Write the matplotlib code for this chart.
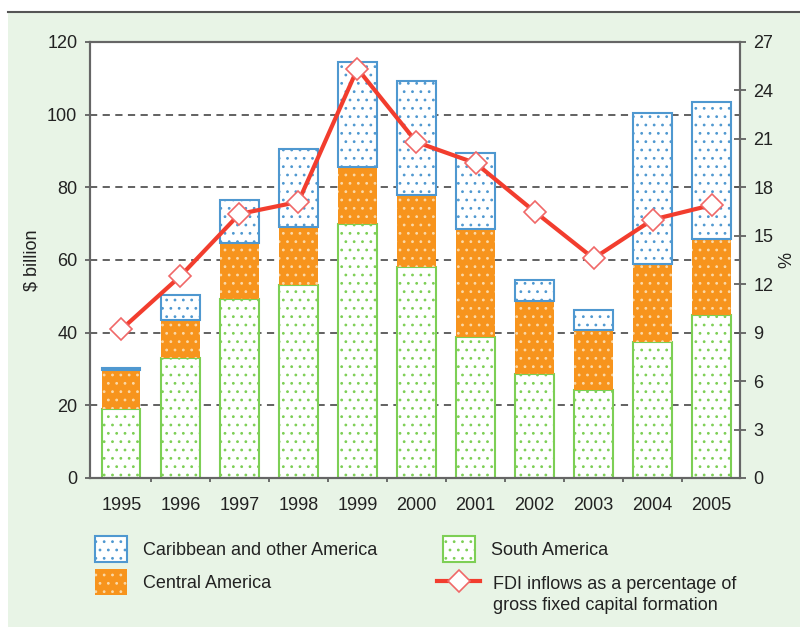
import matplotlib.pyplot as plt
from matplotlib.patches import Patch, Rectangle
from matplotlib.lines import Line2D
import numpy as np

plt.rcParams['font.family'] = ['Liberation Sans', 'DejaVu Sans']
plt.rcParams['hatch.linewidth'] = 0.8

# datos
years = ['1995', '1996', '1997', '1998', '1999', '2000', '2001', '2002', '2003', '2004', '2005']
south = [18.9, 33.0, 49.4, 53.1, 70.0, 58.2, 38.8, 28.5, 24.3, 37.5, 44.8]
central = [10.7, 10.4, 15.4, 16.1, 15.7, 19.8, 29.6, 20.1, 16.3, 21.5, 20.9]
caribbean = [0.8, 6.9, 11.6, 21.4, 28.8, 31.3, 21.1, 5.8, 5.6, 41.4, 37.9]
fdi_pct = [9.2, 12.5, 16.35, 17.1, 25.35, 20.8, 19.5, 16.5, 13.6, 16.0, 16.9]

# colores
bg_green = '#e8f4e6'
blue = '#4f98d0'
orange = '#f7941d'
green = '#7dcf55'
red = '#f23d2e'
fs = 13

fig = plt.figure(figsize=(8, 6.27), dpi=100)
fig.patch.set_facecolor('white')
fig.patches.append(Rectangle((8 / 800, 0), 1, 615 / 627, transform=fig.transFigure,
                             facecolor=bg_green, edgecolor='none', zorder=-10))
fig.lines.append(Line2D([8 / 800, 1], [615 / 627, 615 / 627], transform=fig.transFigure,
                        color='#555555', linewidth=1.5))

ax = fig.add_axes([90 / 800, (627 - 478) / 627, 650 / 800, 436 / 627])
ax.set_facecolor('white')
x = np.arange(len(years))
w = 0.65

south_arr = np.array(south)
central_arr = np.array(central)
ax.bar(x, south, w, color='white', edgecolor=green, hatch='..', linewidth=1.5, zorder=2)
ax.bar(x, central, w, bottom=south_arr, color=orange, edgecolor='#fbd9a8', hatch='..', linewidth=0, zorder=2)
ax.bar(x, caribbean, w, bottom=south_arr + central_arr, color='white', edgecolor=blue, hatch='..',
       linewidth=1.5, zorder=2)

ax.set_xlim(-0.53, 10.48)
ax.set_ylim(0, 120)
ax.set_yticks(range(0, 121, 20))
ax.set_xticks(x)
ax.set_xticklabels(years, fontsize=fs, color='#222222')
ax.set_xticks(x[:-1] + 0.5, minor=True)
ax.tick_params(axis='x', which='major', length=0, pad=14)
ax.tick_params(axis='x', which='minor', length=3, width=1.2, color='#555555', direction='out')
ax.tick_params(axis='y', length=3.6, width=1.2, color='#555555', labelsize=fs, pad=5.5,
               labelcolor='#222222')
for v in range(20, 101, 20):
    ax.axhline(v, color='#555555', linestyle=(0, (4, 3)), linewidth=1.3, zorder=1)
for s in ax.spines.values():
    s.set_color('#666666')
    s.set_linewidth(1.5)
ax.set_ylabel('$ billion', fontsize=fs, labelpad=5, color='#222222')

ax2 = ax.twinx()
ax2.plot(x, fdi_pct, color=red, linewidth=3, marker='D', markersize=11,
         markerfacecolor='white', markeredgecolor='#f06868', markeredgewidth=1.2, zorder=5)
ax2.set_ylim(0, 27)
ax2.set_yticks(range(0, 28, 3))
ax2.tick_params(axis='y', length=8, width=1.2, color='#555555', direction='inout', labelsize=fs,
                pad=5.5, labelcolor='#222222')
for s in ax2.spines.values():
    s.set_color('#666666')
    s.set_linewidth(1.5)
ax2.set_ylabel('%', fontsize=fs, rotation=270, labelpad=12, color='#222222')

patch_handles = [
    Patch(facecolor='white', edgecolor=blue, hatch='..', linewidth=1.5, label='Caribbean and other America'),
    Patch(facecolor=orange, edgecolor='#fbd9a8', hatch='..', linewidth=0, label='Central America'),
    Patch(facecolor='white', edgecolor=green, hatch='..', linewidth=1.5, label='South America'),
]
fig.legend(handles=patch_handles, ncol=2, loc='upper left', bbox_to_anchor=(95 / 800, (627 - 536) / 627),
           frameon=False, fontsize=fs, handlelength=1.78, handleheight=1.85, columnspacing=3.67,
           labelspacing=0.4, handletextpad=0.86, borderpad=0, borderaxespad=0, labelcolor='#222222')

line_handle = Line2D([0], [0], color=red, linewidth=3, marker='D', markersize=11, markerfacecolor='white',
                     markeredgecolor='#f06868', markeredgewidth=1.2, label='FDI inflows as a percentage of')
fig.legend(handles=[line_handle], loc='upper left', bbox_to_anchor=(437 / 800, (627 - 573) / 627),
           frameon=False, fontsize=fs, handlelength=2.4, handleheight=1.33, handletextpad=0.72,
           borderpad=0, borderaxespad=0, labelcolor='#222222')
fig.text(493 / 800, (627 - 605) / 627, 'gross fixed capital formation', fontsize=fs,
         va='center', ha='left', color='#222222')

plt.savefig('out.png', dpi=100, facecolor=fig.get_facecolor())
